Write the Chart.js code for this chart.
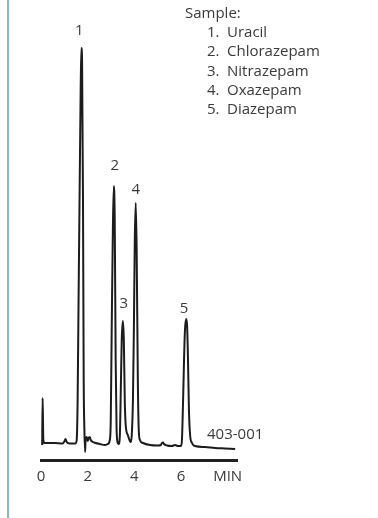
<!DOCTYPE html>
<html>
<head>
<meta charset="utf-8">
<script src="https://cdn.jsdelivr.net/npm/chart.js@4/dist/chart.umd.min.js"></script>
<style>
  html, body { margin: 0; padding: 0; background: #fff; }
  #wrap { position: relative; width: 378px; height: 518px; }
  #edge { position: absolute; left: 7px; top: 0; width: 2px; height: 518px; background: #86b6d3; }
  canvas { position: absolute; left: 0; top: 0; }
</style>
</head>
<body>
<div id="wrap">
  <canvas id="chrom" width="378" height="518"></canvas>
  <div id="edge"></div>
</div>
<script>
  // Retention time (min) and detector signal (arbitrary units)
  var times = [0.05, 0.07, 0.10, 0.15, 0.58, 0.92, 1.01, 1.05, 1.10, 1.23, 1.48, 1.53, 1.57, 1.61, 1.66, 1.70,
    1.73, 1.76, 1.80, 1.83, 1.86, 1.89, 1.91, 1.96, 2.00, 2.04, 2.09, 2.13, 2.22, 2.34, 2.52, 2.73, 2.86,
    2.95, 2.99, 3.03, 3.08, 3.12, 3.16, 3.20, 3.24, 3.29, 3.33, 3.38, 3.42, 3.46, 3.51, 3.55, 3.59, 3.63,
    3.72, 3.81, 3.85, 3.89, 3.94, 3.98, 4.02, 4.06, 4.10, 4.15, 4.19, 4.24, 4.37, 4.67, 5.01, 5.14, 5.18,
    5.23, 5.27, 5.40, 5.61, 5.74, 5.87, 6.00, 6.04, 6.09, 6.13, 6.17, 6.22, 6.26, 6.30, 6.34, 6.39, 6.47,
    6.60, 7.03, 7.46, 7.89, 8.32];
  var signal = [-2, 45, 3, 0, 0, -0.5, 2, 4, 1, -0.5, -0.5, 3, 43, 143, 263, 353,
    395, 383, 243, 63, 13, -9, 3, 6, 2, 5, 6, 3, 1, 0, -1, -2, -1,
    3, 23, 113, 213, 257, 223, 83, 13, 0, -1, 8, 53, 103, 122, 103, 43, 18,
    8, 2, 1, 8, 43, 113, 203, 240, 193, 63, 13, 3, 0, -2, -2.5, -2, 0,
    0.5, -1, -2.5, -3, -2, -3, -3, 3, 43, 83, 113, 124, 118, 83, 33, 8, 0,
    -3, -4, -5, -5.5, -6];

  // Peaks
  var peakNumbers = ['1', '2', '3', '4', '5'];
  var compounds = ['Uracil', 'Chlorazepam', 'Nitrazepam', 'Oxazepam', 'Diazepam'];
  var peakTimes = [1.73, 3.12, 3.51, 4.06, 6.22];
  var peakHeights = [395, 257, 122, 240, 124];

  // X axis ticks
  var tickValues = [0, 2, 4, 6, 8];
  var tickLabels = ['0', '2', '4', '6', 'MIN'];

  var chromId = '403-001';

  var FONT = '"Open Sans", "Noto Sans", sans-serif';
  var TEXT = '#3a3a3a';

  var points = times.map(function(t, i) { return { x: t, y: signal[i] }; });

  // peak number labels above each apex (pixel nudges)
  var labelNudge = [[-2, 17], [1, 20], [1, 17], [0, 13], [-2, 10]];

  var annotations = {
    id: 'annotations',
    afterDatasetsDraw: function(chart) {
      var ctx = chart.ctx;
      var xs = chart.scales.x, ys = chart.scales.y;
      ctx.save();
      ctx.fillStyle = TEXT;
      ctx.font = '15px ' + FONT;
      ctx.textBaseline = 'middle';

      ctx.textAlign = 'center';
      peakNumbers.forEach(function(n, i) {
        var px = xs.getPixelForValue(peakTimes[i]) + labelNudge[i][0];
        var py = ys.getPixelForValue(peakHeights[i]) - labelNudge[i][1];
        ctx.fillText(n, px, py);
      });

      ctx.textAlign = 'left';
      ctx.fillText('Sample:', 185, 14);
      compounds.forEach(function(c, i) {
        var y = 33 + i * 19.2;
        ctx.fillText(peakNumbers[i] + '.', 207, y);
        ctx.fillText(c, 227, y);
      });

      ctx.fillText(chromId, 207, 435);
      ctx.restore();
    }
  };

  new Chart(document.getElementById('chrom'), {
    type: 'line',
    data: {
      datasets: [{
        data: points,
        borderColor: '#1c1c1c',
        borderWidth: 2,
        pointRadius: 0,
        cubicInterpolationMode: 'monotone',
        fill: false
      }]
    },
    options: {
      responsive: false,
      animation: false,
      layout: { padding: { left: 41, right: 141, top: 20, bottom: 0 } },
      plugins: {
        legend: { display: false },
        tooltip: { enabled: false }
      },
      scales: {
        x: {
          type: 'linear',
          min: 0,
          max: 8.4,
          afterBuildTicks: function(scale) {
            scale.ticks = tickValues.map(function(v) { return { value: v }; });
          },
          afterFit: function(scale) { scale.height = 58; },
          grid: { display: false, drawTicks: false },
          border: { display: true, color: '#222', width: 3 },
          ticks: {
            padding: 8,
            color: TEXT,
            font: { family: FONT, size: 15 },
            maxRotation: 0,
            callback: function(v) {
              var i = tickValues.indexOf(v);
              return i >= 0 ? tickLabels[i] : '';
            }
          }
        },
        y: {
          display: false,
          min: -17,
          max: 423
        }
      }
    },
    plugins: [annotations]
  });
</script>
</body>
</html>
